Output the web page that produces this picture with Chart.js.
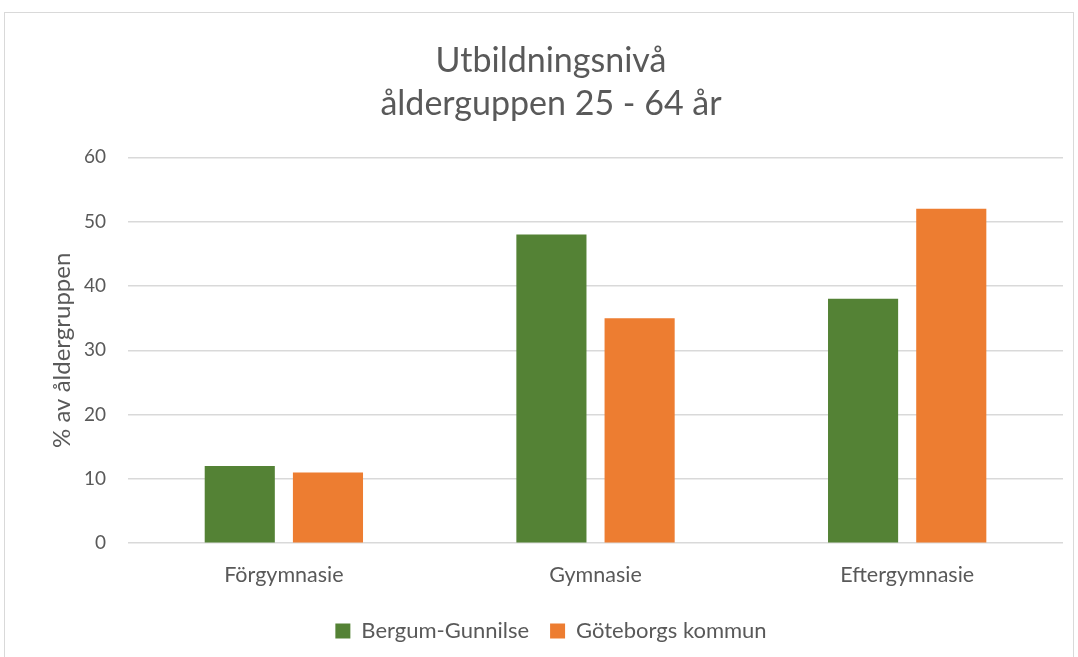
<!DOCTYPE html>
<html>
<head>
<meta charset="utf-8">
<script src="https://cdn.jsdelivr.net/npm/chart.js@4"></script>
<style>
    body { margin: 0; background: #fff; }
    #wrap {
        position: absolute; left: 4px; top: 12px;
        width: 1070px; height: 660px;
        border: 1px solid #d9d9d9; box-sizing: border-box;
    }
</style>
</head>
<body>
<div id="wrap"><canvas id="chart"></canvas></div>
<script>
let categories = ["Förgymnasie", "Gymnasie", "Eftergymnasie"];
let bergum = [12, 48, 38];
let goteborg = [11, 35, 52];
let yTicks = [0, 10, 20, 30, 40, 50, 60];

const font = "Lato, 'Open Sans', sans-serif";
const grey = "#595959";

const ctx = document.getElementById("chart");

let chart = new Chart(ctx, {
    type: 'bar',
    data: {
        labels: categories,
        datasets: [{
            label: 'Bergum-Gunnilse',
            data: bergum,
            backgroundColor: '#548235'
        }, {
            label: 'Göteborgs kommun',
            data: goteborg,
            backgroundColor: '#ED7D31'
        }]
    },
    options: {
        responsive: true,
        maintainAspectRatio: false,
        animation: false,
        datasets: {
            bar: { categoryPercentage: 0.566, barPercentage: 0.795 }
        },
        layout: { padding: { left: 34, right: 10, top: 26, bottom: 19 } },
        plugins: {
            title: {
                display: true,
                text: ["Utbildningsnivå", "ålderguppen 25 - 64 år"],
                color: grey,
                font: { family: font, size: 34, weight: 'normal', lineHeight: 1.27 },
                padding: { top: 0, bottom: 32 }
            },
            legend: {
                position: 'bottom',
                labels: {
                    color: grey,
                    font: { family: font, size: 22 },
                    boxWidth: 15, boxHeight: 15,
                    padding: 21
                }
            },
            tooltip: { enabled: false }
        },
        scales: {
            x: {
                grid: { display: false },
                border: { display: false },
                ticks: { color: grey, font: { family: font, size: 21.5 }, padding: 11 }
            },
            y: {
                min: 0, max: 60,
                afterBuildTicks: axis => { axis.ticks = yTicks.map(v => ({ value: v })); },
                grid: { color: '#d9d9d9', lineWidth: 1.5, drawTicks: false },
                border: { display: false },
                ticks: { color: grey, font: { family: font, size: 19 }, padding: 22 },
                title: {
                    display: true,
                    text: '% av åldergruppen',
                    color: grey,
                    font: { family: font, size: 24 },
                    padding: { top: 8.6, bottom: -14.4 }
                }
            }
        }
    }
});
</script>
</body>
</html>
